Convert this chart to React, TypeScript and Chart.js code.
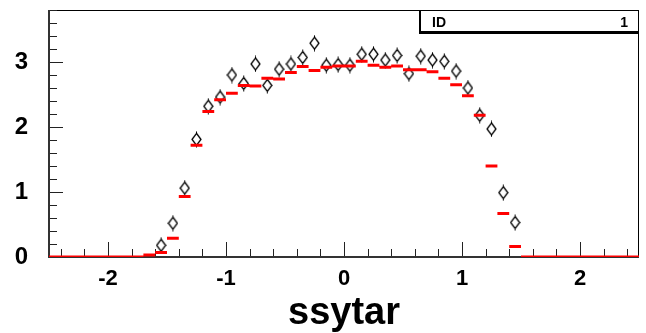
import React, { useEffect, useRef } from "react";
import { Chart, registerables } from "chart.js";

Chart.register(...registerables);

// Histogram bins (width 0.1) from -2.5 to 2.5
const binWidth = 0.1;
const binCenters = [
  -2.45, -2.35, -2.25, -2.15, -2.05, -1.95, -1.85, -1.75, -1.65, -1.55,
  -1.45, -1.35, -1.25, -1.15, -1.05, -0.95, -0.85, -0.75, -0.65, -0.55,
  -0.45, -0.35, -0.25, -0.15, -0.05, 0.05, 0.15, 0.25, 0.35, 0.45,
  0.55, 0.65, 0.75, 0.85, 0.95, 1.05, 1.15, 1.25, 1.35, 1.45,
  1.55, 1.65, 1.75, 1.85, 1.95, 2.05, 2.15, 2.25, 2.35, 2.45,
];

// Red histogram (reference)
const histValues = [
  0, 0, 0, 0, 0, 0, 0, 0, 0.03, 0.07,
  0.29, 0.93, 1.72, 2.24, 2.42, 2.52, 2.64, 2.63, 2.75, 2.74,
  2.84, 2.93, 2.87, 2.92, 2.94, 2.94, 3.01, 2.95, 2.92, 2.94,
  2.88, 2.88, 2.85, 2.75, 2.65, 2.48, 2.18, 1.4, 0.67, 0.16,
  0, 0, 0, 0, 0, 0, 0, 0, 0, 0,
];

// Open diamond markers
const markerValues = [
  null, null, null, null, null, null, null, null, null, 0.18,
  0.52, 1.06, 1.81, 2.32, 2.46, 2.8, 2.67, 2.97, 2.64, 2.89,
  2.97, 3.07, 3.29, 2.95, 2.96, 2.95, 3.12, 3.12, 3.03, 3.1,
  2.82, 3.09, 3.03, 3.01, 2.86, 2.6, 2.18, 1.97, 0.99, 0.53,
  null, null, null, null, null, null, null, null, null, null,
];

const xMin = -2.5;
const xMax = 2.5;
const yMin = 0;
const yMax = 3.8;
const xTickValues = [-2, -1, 0, 1, 2];
const yTickValues = [0, 1, 2, 3];
const xTitle = "ssytar";
const statsLabel = "ID";
const statsValue = "1";

const FONT = "'Liberation Sans', Arial, Helvetica, sans-serif";

function makeDiamond(): HTMLCanvasElement {
  const c = document.createElement("canvas");
  c.width = 11;
  c.height = 17;
  const g = c.getContext("2d")!;
  g.strokeStyle = "#000";
  g.lineWidth = 1.3;
  g.beginPath();
  g.moveTo(5.5, 2.5);
  g.lineTo(10, 8.5);
  g.lineTo(5.5, 14.5);
  g.lineTo(1, 8.5);
  g.closePath();
  g.stroke();
  g.lineWidth = 1;
  g.beginPath();
  g.moveTo(5.5, 0.5);
  g.lineTo(5.5, 2.5);
  g.moveTo(5.5, 14.5);
  g.lineTo(5.5, 16.5);
  g.stroke();
  return c;
}

const framePlugin = {
  id: "rootFrame",
  beforeDatasetsDraw(chart: any) {
    const { ctx, chartArea: a, scales } = chart;
    const xs = scales.x;
    const ys = scales.y;
    ctx.save();
    // top & right frame
    ctx.strokeStyle = "#000";
    ctx.lineWidth = 1;
    ctx.beginPath();
    ctx.moveTo(a.left, a.top + 0.5);
    ctx.lineTo(a.right, a.top + 0.5);
    ctx.moveTo(a.right - 0.5, a.top);
    ctx.lineTo(a.right - 0.5, a.bottom);
    ctx.stroke();
    // ticks
    ctx.strokeStyle = "#222";
    ctx.lineWidth = 1;
    ctx.beginPath();
    for (let k = 0; k <= 25; k++) {
      const val = Math.round((xMin + 0.1 + k * 0.2) * 10) / 10;
      if (val > xMax) break;
      const px = Math.round(xs.getPixelForValue(val)) + 0.5;
      const major = Math.abs(val - Math.round(val)) < 1e-6;
      const len = major ? 15 : 8;
      ctx.moveTo(px, a.bottom);
      ctx.lineTo(px, a.bottom - len);
    }
    for (let k = 1; k <= 19; k++) {
      const val = Math.round(k * 0.2 * 10) / 10;
      if (val > yMax) break;
      const py = Math.round(ys.getPixelForValue(val)) + 0.5;
      const major = Math.abs(val - Math.round(val)) < 1e-6;
      const len = major ? 14 : 8;
      ctx.moveTo(a.left, py);
      ctx.lineTo(a.left + len, py);
    }
    ctx.stroke();
    // left and bottom axes
    ctx.strokeStyle = "#333";
    ctx.lineWidth = 2;
    ctx.beginPath();
    ctx.moveTo(a.left, a.top);
    ctx.lineTo(a.left, a.bottom + 1);
    ctx.moveTo(a.left - 1, a.bottom);
    ctx.lineTo(a.right, a.bottom);
    ctx.stroke();
    ctx.restore();
  },
  afterDraw(chart: any) {
    const { ctx, chartArea: a } = chart;
    ctx.save();
    const bx = 419;
    const by = a.top;
    const bw = a.right - bx;
    const bh = 22;
    ctx.fillStyle = "#fff";
    ctx.fillRect(bx, by, bw, bh);
    ctx.strokeStyle = "#000";
    ctx.lineWidth = 1;
    ctx.strokeRect(bx + 0.5, by + 0.5, bw - 1, bh - 1);
    ctx.lineWidth = 2;
    ctx.beginPath();
    ctx.moveTo(bx + 1, by);
    ctx.lineTo(bx + 1, by + bh + 1);
    ctx.lineTo(bx + bw, by + bh + 1);
    ctx.stroke();
    ctx.fillStyle = "#000";
    ctx.font = `bold 14px ${FONT}`;
    ctx.textBaseline = "alphabetic";
    ctx.textAlign = "left";
    ctx.fillText(statsLabel, 432, by + 17);
    ctx.textAlign = "right";
    ctx.fillText(statsValue, 628, by + 17);
    ctx.restore();
  },
};

export default function App() {
  const ref = useRef<HTMLCanvasElement>(null);

  useEffect(() => {
    document.body.style.margin = "0";
    const canvas = ref.current!;
    const histPoints: any[] = [];
    binCenters.forEach((c, i) => {
      histPoints.push({ x: c - binWidth / 2, y: histValues[i] });
      histPoints.push({ x: c + binWidth / 2, y: histValues[i] });
      histPoints.push({ x: c + binWidth / 2, y: null });
    });
    const markerPoints = binCenters.map((c, i) => ({ x: c, y: markerValues[i] }));
    const diamond = makeDiamond();

    const chart = new Chart(canvas, {
      type: "scatter",
      data: {
        datasets: [
          {
            type: "line",
            data: markerPoints,
            showLine: false,
            pointStyle: diamond as any,
            pointRadius: 6,
            order: 2,
          },
          {
            type: "line",
            data: histPoints,
            showLine: true,
            spanGaps: false,
            borderColor: "#ff0000",
            borderWidth: 3,
            borderCapStyle: "butt",
            pointRadius: 0,
            tension: 0,
            order: 1,
          } as any,
        ],
      },
      options: {
        animation: false,
        responsive: false,
        devicePixelRatio: 1,
        layout: { padding: { top: 10, right: 5, left: 0, bottom: 0 } },
        plugins: {
          legend: { display: false },
          tooltip: { enabled: false },
        },
        scales: {
          x: {
            type: "linear",
            min: xMin,
            max: xMax,
            grid: { display: false, drawTicks: false },
            border: { display: false },
            afterBuildTicks: (s: any) => {
              s.ticks = xTickValues.map((v) => ({ value: v }));
            },
            afterFit: (s: any) => {
              s.height = 76;
              s.paddingLeft = 0;
              s.paddingRight = 0;
              s.paddingTop = 0;
              s.paddingBottom = 0;
            },
            ticks: {
              color: "#000",
              padding: 9,
              maxRotation: 0,
              autoSkip: false,
              font: { family: FONT, size: 22, weight: "bold" },
              callback: (v: any) => String(v),
            },
            title: {
              display: true,
              text: xTitle,
              color: "#000",
              font: { family: FONT, size: 38, weight: "bold", lineHeight: 1 },
              padding: { top: 0, bottom: 0 },
            },
          },
          y: {
            type: "linear",
            min: yMin,
            max: yMax,
            grid: { display: false, drawTicks: false },
            border: { display: false },
            afterBuildTicks: (s: any) => {
              s.ticks = yTickValues.map((v) => ({ value: v }));
            },
            afterFit: (s: any) => {
              s.width = 49;
              s.paddingLeft = 0;
              s.paddingRight = 0;
              s.paddingTop = 0;
              s.paddingBottom = 0;
            },
            ticks: {
              color: "#000",
              padding: 21,
              autoSkip: false,
              font: { family: FONT, size: 24, weight: "bold" },
              callback: (v: any) => String(v),
            },
          },
        },
      },
      plugins: [framePlugin],
    } as any);
    return () => chart.destroy();
  }, []);

  return <canvas ref={ref} width={646} height={333} style={{ display: "block" }} />;
}
